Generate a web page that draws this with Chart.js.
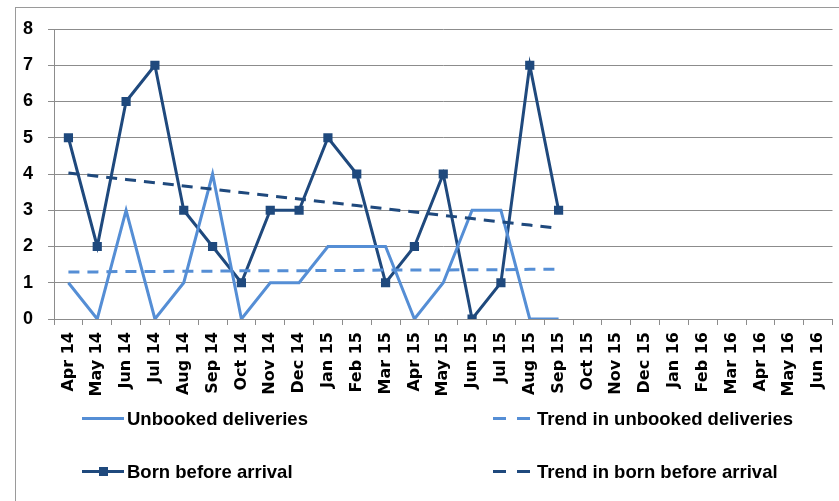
<!DOCTYPE html>
<html>
<head>
<meta charset="utf-8">
<script src="https://cdn.jsdelivr.net/npm/chart.js@4.4.1/dist/chart.umd.min.js"></script>
<style>
  html, body { margin: 0; padding: 0; background: #fff; }
  #wrap { position: relative; width: 839px; height: 501px; overflow: hidden; }
  #frame { position: absolute; left: 15px; top: 7px; width: 840px; height: 500px;
           border-left: 1px solid #9a9a9a; border-top: 1px solid #9a9a9a; }
  canvas { position: absolute; left: 0; top: 0; }
  .item { position: absolute; height: 24px; font: bold 18.5px "Liberation Sans", Arial, sans-serif;
          color: #000; white-space: nowrap; }
  .item span { position: absolute; top: 0; line-height: 24px; }
  .seg { position: absolute; top: 10px; height: 3px; }
  .mk { position: absolute; top: 7px; width: 9px; height: 9px; }
</style>
</head>
<body>
<div id="wrap">
  <div id="frame"></div>
  <canvas id="chart" width="839" height="501"></canvas>

  <div class="item" style="left:82px; top:407px;">
    <div class="seg" style="left:0; width:42px; background:#558ED5;"></div>
    <span style="left:45px;">Unbooked deliveries</span>
  </div>
  <div class="item" style="left:493px; top:407px;">
    <div class="seg" style="left:0; width:13px; background:#558ED5;"></div>
    <div class="seg" style="left:24px; width:13px; background:#558ED5;"></div>
    <span style="left:44px;">Trend in unbooked deliveries</span>
  </div>
  <div class="item" style="left:82px; top:460px;">
    <div class="seg" style="left:0; width:42px; background:#1F497D;"></div>
    <div class="mk" style="left:17px; background:#1F497D;"></div>
    <span style="left:45px;">Born before arrival</span>
  </div>
  <div class="item" style="left:493px; top:460px;">
    <div class="seg" style="left:0; width:13px; background:#1F497D;"></div>
    <div class="seg" style="left:24px; width:13px; background:#1F497D;"></div>
    <span style="left:44px;">Trend in born before arrival</span>
  </div>
</div>

<script>
// Month labels on the x axis
const months = [
  "Apr 14", "May 14", "Jun 14", "Jul 14", "Aug 14", "Sep 14", "Oct 14", "Nov 14", "Dec 14",
  "Jan 15", "Feb 15", "Mar 15", "Apr 15", "May 15", "Jun 15", "Jul 15", "Aug 15", "Sep 15",
  "Oct 15", "Nov 15", "Dec 15", "Jan 16", "Feb 16", "Mar 16", "Apr 16", "May 16", "Jun 16",
]

// Monthly counts (Apr 14 - Sep 15)
const unbooked = [1, 0, 3, 0, 1, 4, 0, 1, 1, 2, 2, 2, 0, 1, 3, 3, 0, 0]
const bornBeforeArrival = [5, 2, 6, 7, 3, 2, 1, 3, 3, 5, 4, 1, 2, 4, 0, 1, 7, 3]

// Trend lines
const unbookedTrend = [1.30, 1.30, 1.31, 1.31, 1.32, 1.32, 1.33, 1.33, 1.33, 1.34, 1.34, 1.35, 1.35, 1.35, 1.36, 1.36, 1.37, 1.37]
const bbaTrend = [4.03, 3.94, 3.85, 3.76, 3.67, 3.58, 3.49, 3.40, 3.31, 3.22, 3.13, 3.04, 2.95, 2.86, 2.77, 2.68, 2.59, 2.50]

const yTicks = [0, 1, 2, 3, 4, 5, 6, 7, 8]

const lightBlue = "#558ED5"
const darkBlue = "#1F497D"
const gridColor = "#8c8c8c"

const ctx = document.getElementById("chart").getContext("2d")
new Chart(ctx, {
  type: "line",
  data: {
    labels: months,
    datasets: [
      {
        label: "Trend in unbooked deliveries",
        data: unbookedTrend,
        borderColor: lightBlue,
        borderWidth: 3,
        borderDash: [11, 8],
        pointRadius: 0,
        tension: 0,
      },
      {
        label: "Trend in born before arrival",
        data: bbaTrend,
        borderColor: darkBlue,
        borderWidth: 3,
        borderDash: [11, 8],
        pointRadius: 0,
        tension: 0,
      },
      {
        label: "Unbooked deliveries",
        data: unbooked,
        borderColor: lightBlue,
        borderWidth: 3,
        pointRadius: 0,
        tension: 0,
      },
      {
        label: "Born before arrival",
        data: bornBeforeArrival,
        borderColor: darkBlue,
        backgroundColor: darkBlue,
        borderWidth: 3,
        pointStyle: "rect",
        pointRadius: 6.5,
        pointBorderWidth: 0,
        tension: 0,
      },
    ],
  },
  options: {
    responsive: false,
    animation: false,
    layout: { padding: { top: 29, left: 22, right: 5, bottom: 0 } },
    plugins: {
      legend: { display: false },
      tooltip: { enabled: false },
    },
    scales: {
      x: {
        offset: true,
        grid: {
          offset: true,
          drawOnChartArea: false,
          color: gridColor,
          tickLength: 6,
        },
        border: { color: gridColor },
        ticks: {
          autoSkip: false,
          maxRotation: 90,
          minRotation: 90,
          padding: 7,
          color: "#000",
          font: { family: "DejaVu Sans", weight: "bold", size: 16 },
        },
        afterFit: (scale) => {
          scale.height = 182
          scale.paddingLeft = 0
          scale.paddingRight = 0
        },
      },
      y: {
        min: 0,
        max: 8,
        afterBuildTicks: (scale) => { scale.ticks = yTicks.map((v) => ({ value: v })) },
        grid: { color: gridColor, tickLength: 6 },
        border: { color: gridColor },
        ticks: {
          padding: 15,
          color: "#000",
          font: { family: "Liberation Sans", weight: "bold", size: 18 },
        },
        afterFit: (scale) => { scale.width = 32 },
      },
    },
  },
})
</script>
</body>
</html>
